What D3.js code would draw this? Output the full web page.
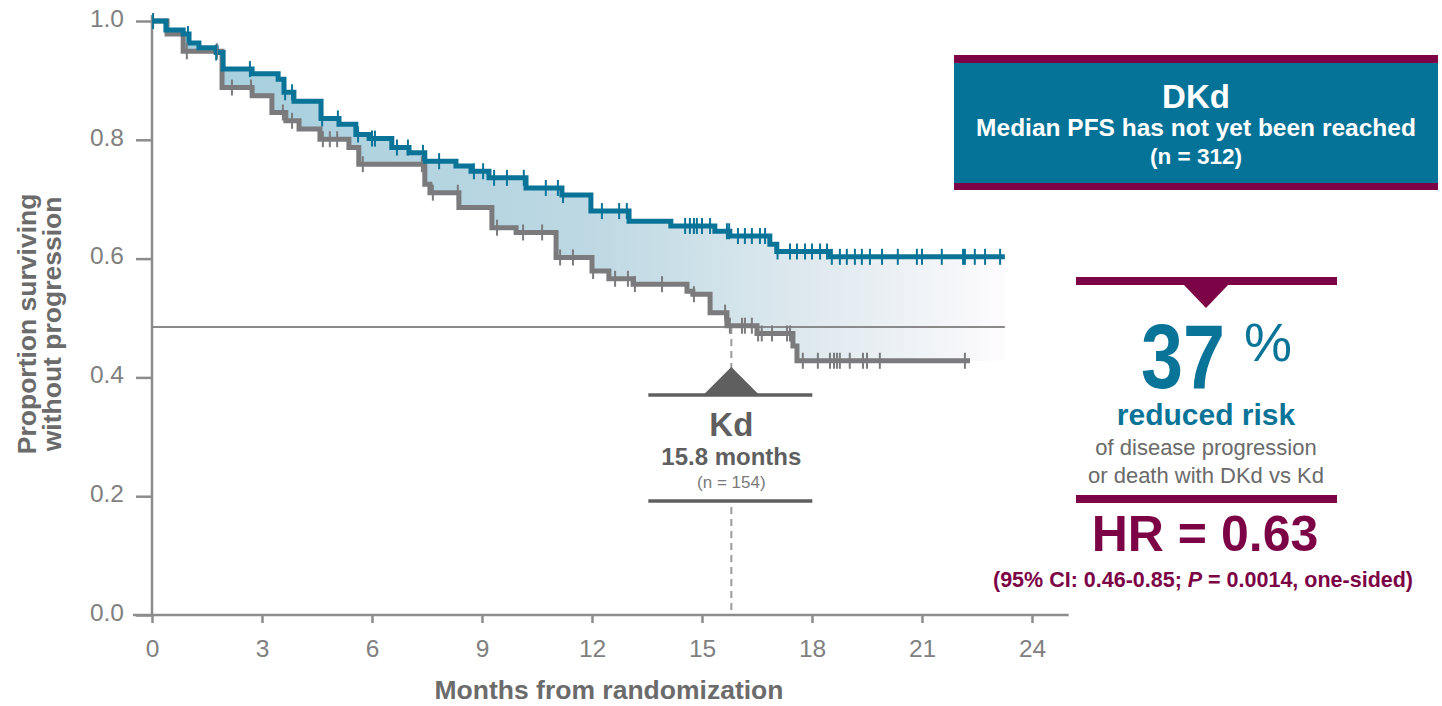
<!DOCTYPE html>
<html>
<head>
<meta charset="utf-8">
<script src="https://cdn.jsdelivr.net/npm/d3@7"></script>
<style>
  body { margin: 0; background: #fff; }
  svg { display: block; font-family: "Liberation Sans", Arial, sans-serif; }
</style>
</head>
<body>
<svg width="1442" height="706"></svg>
<script>
// KM step data (months, proportion)
const dkdTimes = [0, 0.38, 0.85, 1.01, 1.28, 1.75, 1.94, 2.73, 3.44, 3.60, 3.87, 4.61, 5.10, 5.56, 5.92, 6.54, 7.01, 7.44, 8.29, 8.70, 9.19, 10.20, 11.18, 11.97, 13.01, 14.15, 15.35, 15.76, 16.85, 17.04, 18.49];
const dkdSurv  = [1.0, 0.985, 0.978, 0.963, 0.955, 0.947, 0.919, 0.911, 0.902, 0.880, 0.865, 0.836, 0.826, 0.809, 0.802, 0.787, 0.778, 0.764, 0.756, 0.747, 0.736, 0.719, 0.707, 0.680, 0.663, 0.655, 0.646, 0.638, 0.624, 0.612, 0.603];
const dkdEnd = 23.26;

const kdTimes = [0, 0.41, 0.85, 1.91, 2.73, 3.27, 3.65, 4.01, 4.58, 5.37, 5.64, 7.44, 7.58, 8.37, 9.27, 9.93, 11.02, 12.00, 12.46, 13.12, 14.59, 14.75, 15.22, 15.68, 16.50, 17.48, 17.59];
const kdSurv  = [1.0, 0.978, 0.949, 0.888, 0.874, 0.846, 0.832, 0.818, 0.801, 0.787, 0.759, 0.725, 0.711, 0.686, 0.652, 0.644, 0.602, 0.579, 0.566, 0.557, 0.545, 0.540, 0.509, 0.487, 0.474, 0.453, 0.428];
const kdEnd = 22.31;

// censor marks
const dkdCensor = [0.03, 0.98, 1.75, 2.67, 3.63, 3.82, 4.64, 5.07, 5.62, 6.00, 6.08, 6.68, 6.98, 7.39, 7.83, 8.78, 9.03, 9.33, 9.68, 10.14, 10.74, 11.07, 11.21, 12.27, 12.74, 12.95, 14.54, 14.67, 14.78, 14.86, 15.00, 15.22, 15.68, 15.74, 15.98, 16.17, 16.36, 16.58, 16.72, 17.06, 17.40, 17.59, 17.81, 18.00, 18.22, 18.41, 18.54, 18.76, 18.95, 19.17, 19.36, 19.58, 19.91, 20.34, 20.86, 21.00, 21.54, 22.12, 22.17, 22.44, 22.72, 23.13];
const kdCensor = [0.95, 1.77, 2.18, 2.70, 3.57, 3.82, 4.66, 4.85, 5.05, 5.75, 7.36, 7.66, 8.34, 9.41, 10.12, 10.64, 11.13, 11.48, 12.03, 12.63, 12.98, 13.17, 13.91, 14.78, 15.63, 15.76, 16.09, 16.17, 16.36, 16.53, 16.63, 16.91, 17.32, 17.40, 17.75, 18.16, 18.49, 18.60, 18.68, 18.76, 19.03, 19.39, 19.50, 19.85, 22.17];

const xTicks = [0, 3, 6, 9, 12, 15, 18, 21, 24];
const yTicks = [0, 0.2, 0.4, 0.6, 0.8, 1.0];
const kdMedian = 15.8;
const medianLevel = 0.485;

const teal = '#0a7498';
const grey = '#7b7b7d';
const maroon = '#7b0346';
const axisGrey = '#8c8c8c';

const svg = d3.select('svg');

// scales
const x = d3.scaleLinear().domain([0, 24]).range([152, 1032]);
const y = d3.scaleLinear().domain([0, 1]).range([615, 21]);

function survAt(times, surv, t) {
  let s = surv[0];
  for (let i = 0; i < times.length; i++) {
    if (times[i] <= t) s = surv[i];
  }
  return s;
}

// gradient for the gap between curves
const grad = svg.append('defs')
  .append('linearGradient')
  .attr('id', 'gap')
  .attr('gradientUnits', 'userSpaceOnUse')
  .attr('x1', x(0)).attr('x2', x(dkdEnd))
  .attr('y1', 0).attr('y2', 0);
grad.append('stop').attr('offset', 0).attr('stop-color', '#a4cedc');
grad.append('stop').attr('offset', 0.5).attr('stop-color', '#bcd8e3');
grad.append('stop').attr('offset', 0.8).attr('stop-color', '#e2ebf0');
grad.append('stop').attr('offset', 1).attr('stop-color', '#fdfbfd');

// area between curves
const allTimes = Array.from(new Set(dkdTimes.concat(kdTimes, [dkdEnd]))).sort((a, b) => a - b);
const gapData = allTimes.map(t => ({
  t: t,
  top: survAt(dkdTimes, dkdSurv, t),
  bottom: survAt(kdTimes, kdSurv, t)
}));
svg.append('path')
  .attr('d', d3.area()
    .x(d => x(d.t))
    .y0(d => y(d.bottom))
    .y1(d => y(d.top))
    .curve(d3.curveStepAfter)(gapData))
  .attr('fill', 'url(#gap)');

// axes
const xAxis = d3.axisBottom(x).tickValues(xTicks).tickSize(8).tickPadding(17);
const xg = svg.append('g')
  .attr('transform', `translate(0, ${y(0)})`)
  .call(xAxis);
const yAxis = d3.axisLeft(y).tickValues(yTicks).tickFormat(d3.format('.1f')).tickSize(16).tickPadding(12);
const yg = svg.append('g')
  .attr('transform', `translate(${x(0)}, 0)`)
  .call(yAxis);
for (let g of [xg, yg]) {
  g.select('.domain').remove();
  g.selectAll('line').attr('stroke', axisGrey).attr('stroke-width', 2.5);
  g.selectAll('text').attr('fill', '#808080').style('font-size', '24.5px').style('font-family', '"Liberation Sans", Arial, sans-serif');
}
yg.selectAll('text').attr('dy', '0.22em');
svg.append('line')
  .attr('x1', x(-0.52)).attr('x2', x(25))
  .attr('y1', y(0)).attr('y2', y(0))
  .attr('stroke', axisGrey).attr('stroke-width', 2.5);
svg.append('line')
  .attr('x1', x(0)).attr('x2', x(0))
  .attr('y1', y(1.01)).attr('y2', y(0))
  .attr('stroke', axisGrey).attr('stroke-width', 2.5);

// axis titles
svg.append('text')
  .text('Months from randomization')
  .attr('x', x(12) + 17).attr('y', 699)
  .attr('text-anchor', 'middle')
  .attr('fill', '#6b6b6b')
  .style('font-size', '26.5px').style('font-weight', 'bold');
const yTitle = svg.append('text')
  .attr('transform', `translate(36, ${y(0.49)}) rotate(-90)`)
  .attr('text-anchor', 'middle')
  .attr('fill', '#6b6b6b')
  .style('font-size', '26.5px').style('font-weight', 'bold');
yTitle.append('tspan').attr('x', 0).attr('dy', 0).text('Proportion surviving');
yTitle.append('tspan').attr('x', 0).attr('dy', 25).text('without progression');

// median reference lines
svg.append('line')
  .attr('x1', x(0)).attr('x2', x(dkdEnd))
  .attr('y1', y(medianLevel)).attr('y2', y(medianLevel))
  .attr('stroke', '#8a8a8a').attr('stroke-width', 2);
svg.append('line')
  .attr('x1', x(kdMedian)).attr('x2', x(kdMedian))
  .attr('y1', y(medianLevel)).attr('y2', y(0))
  .attr('stroke', '#9a9a9a').attr('stroke-width', 2)
  .attr('stroke-dasharray', '7,5');

// step curves
function stepLine(times, surv, end) {
  const pts = times.map((t, i) => [t, surv[i]]);
  pts.push([end, surv[surv.length - 1]]);
  return d3.line().x(d => x(d[0])).y(d => y(d[1])).curve(d3.curveStepAfter)(pts);
}
svg.append('path')
  .attr('d', stepLine(kdTimes, kdSurv, kdEnd))
  .attr('fill', 'none').attr('stroke', grey).attr('stroke-width', 5);
svg.append('path')
  .attr('d', stepLine(dkdTimes, dkdSurv, dkdEnd))
  .attr('fill', 'none').attr('stroke', teal).attr('stroke-width', 5);

// censor ticks
svg.append('g').selectAll('line')
  .data(kdCensor).enter().append('line')
  .attr('x1', d => x(d)).attr('x2', d => x(d))
  .attr('y1', d => y(survAt(kdTimes, kdSurv, d)) - 8)
  .attr('y2', d => y(survAt(kdTimes, kdSurv, d)) + 8)
  .attr('stroke', grey).attr('stroke-width', 2);
svg.append('g').selectAll('line')
  .data(dkdCensor).enter().append('line')
  .attr('x1', d => x(d)).attr('x2', d => x(d))
  .attr('y1', d => y(survAt(dkdTimes, dkdSurv, d)) - 8)
  .attr('y2', d => y(survAt(dkdTimes, dkdSurv, d)) + 8)
  .attr('stroke', teal).attr('stroke-width', 2);

// Kd median callout
const kx = x(kdMedian);
const kd = svg.append('g').attr('fill', '#5f5f5f');
kd.append('rect')
  .attr('x', kx - 82).attr('y', 394).attr('width', 164).attr('height', 109)
  .attr('fill', '#fff');
kd.append('path')
  .attr('d', `M${kx - 28},395 L${kx},367 L${kx + 28},395 Z`);
kd.append('line')
  .attr('x1', kx - 83).attr('x2', kx + 81).attr('y1', 395).attr('y2', 395)
  .attr('stroke', '#5f5f5f').attr('stroke-width', 3.5);
kd.append('line')
  .attr('x1', kx - 83).attr('x2', kx + 81).attr('y1', 501).attr('y2', 501)
  .attr('stroke', '#5f5f5f').attr('stroke-width', 3.5);
kd.append('text').text('Kd')
  .attr('x', kx).attr('y', 436).attr('text-anchor', 'middle')
  .style('font-size', '33px').style('font-weight', 'bold');
kd.append('text').text('15.8 months')
  .attr('x', kx).attr('y', 465).attr('text-anchor', 'middle')
  .style('font-size', '24px').style('font-weight', 'bold');
kd.append('text').text('(n = 154)')
  .attr('x', kx).attr('y', 488).attr('text-anchor', 'middle')
  .attr('fill', '#7a7a7a')
  .style('font-size', '17px');

// DKd box
const box = svg.append('g');
box.append('rect').attr('x', 954).attr('y', 55).attr('width', 484).attr('height', 135).attr('fill', maroon);
box.append('rect').attr('x', 954).attr('y', 63).attr('width', 484).attr('height', 120).attr('fill', '#047397');
box.append('text').text('DKd')
  .attr('x', 1196).attr('y', 108).attr('text-anchor', 'middle').attr('fill', '#fff')
  .style('font-size', '33px').style('font-weight', 'bold');
box.append('text').text('Median PFS has not yet been reached')
  .attr('x', 1196).attr('y', 136).attr('text-anchor', 'middle').attr('fill', '#fff')
  .style('font-size', '24.5px').style('font-weight', 'bold');
box.append('text').text('(n = 312)')
  .attr('x', 1196).attr('y', 164).attr('text-anchor', 'middle').attr('fill', '#fff')
  .style('font-size', '22.5px').style('font-weight', 'bold');

// hazard ratio panel
const hr = svg.append('g');
hr.append('rect').attr('x', 1076).attr('y', 277).attr('width', 261).attr('height', 8).attr('fill', maroon);
hr.append('path').attr('d', 'M1183,284 L1206,308 L1229,284 Z').attr('fill', maroon);
hr.append('text').text('37')
  .attr('x', 1183).attr('y', 388).attr('text-anchor', 'middle').attr('fill', teal)
  .attr('textLength', 84).attr('lengthAdjust', 'spacingAndGlyphs')
  .style('font-size', '90px').style('font-weight', 'bold');
hr.append('text').text('%')
  .attr('x', 1268).attr('y', 361).attr('text-anchor', 'middle').attr('fill', teal)
  .style('font-size', '54px');
hr.append('text').text('reduced risk')
  .attr('x', 1206).attr('y', 425).attr('text-anchor', 'middle').attr('fill', teal)
  .style('font-size', '30px').style('font-weight', 'bold');
hr.append('text').text('of disease progression')
  .attr('x', 1206).attr('y', 455).attr('text-anchor', 'middle').attr('fill', '#6a6a6a')
  .style('font-size', '22px');
hr.append('text').text('or death with DKd vs Kd')
  .attr('x', 1206).attr('y', 483).attr('text-anchor', 'middle').attr('fill', '#6a6a6a')
  .style('font-size', '22px');
hr.append('rect').attr('x', 1076).attr('y', 495).attr('width', 261).attr('height', 8).attr('fill', maroon);
hr.append('text').text('HR = 0.63')
  .attr('x', 1205).attr('y', 551).attr('text-anchor', 'middle').attr('fill', maroon)
  .style('font-size', '50px').style('font-weight', 'bold');
const ci = hr.append('text')
  .attr('x', 1203).attr('y', 587).attr('text-anchor', 'middle').attr('fill', maroon)
  .style('font-size', '21.5px').style('font-weight', 'bold');
ci.append('tspan').text('(95% CI: 0.46-0.85; ');
ci.append('tspan').text('P').style('font-style', 'italic');
ci.append('tspan').text(' = 0.0014, one-sided)');
</script>
</body>
</html>
